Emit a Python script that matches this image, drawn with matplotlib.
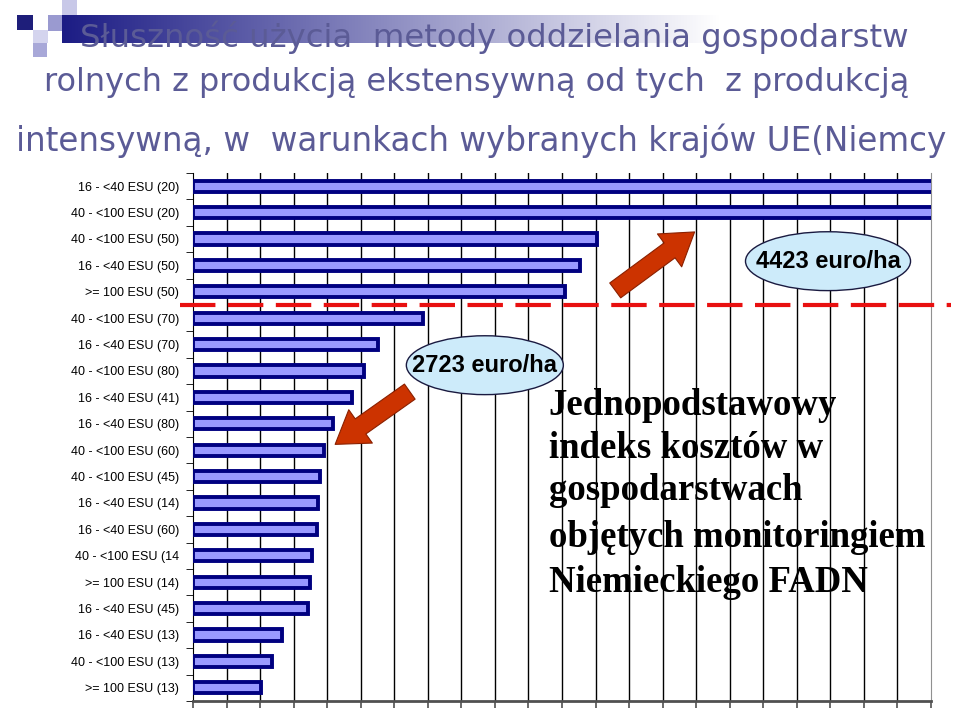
import numpy as np
import matplotlib.pyplot as plt
from matplotlib.patches import Rectangle, Ellipse, FancyArrowPatch

# categories, top to bottom
categories = ["16 - <40 ESU (20)", "40 - <100 ESU (20)", "40 - <100 ESU (50)",
              "16 - <40 ESU (50)", ">= 100 ESU (50)", "40 - <100 ESU (70)",
              "16 - <40 ESU (70)", "40 - <100 ESU (80)", "16 - <40 ESU (41)",
              "16 - <40 ESU (80)", "40 - <100 ESU (60)", "40 - <100 ESU (45)",
              "16 - <40 ESU (14)", "16 - <40 ESU (60)", "40 - <100 ESU (14",
              ">= 100 ESU (14)", "16 - <40 ESU (45)", "16 - <40 ESU (13)",
              "40 - <100 ESU (13)", ">= 100 ESU (13)"]
# index of costs (scale of the gridlines: one step = 200)
values = [4600, 4600, 2408, 2306, 2218, 1372, 1102, 1020, 948, 834,
          780, 758, 746, 740, 710, 696, 686, 530, 472, 404]
x_max = 4400
x_step = 200

title_lines = ["Słuszność użycia  metody oddzielania gospodarstw",
               "rolnych z produkcją ekstensywną od tych  z produkcją",
               "intensywną, w  warunkach wybranych krajów UE(Niemcy"]
note_lines = ["Jednopodstawowy", "indeks kosztów w", "gospodarstwach",
              "objętych monitoringiem", "Niemieckiego FADN"]
label_high = "4423 euro/ha"
label_low = "2723 euro/ha"

W, H = 960, 709
fig = plt.figure(figsize=(W / 100, H / 100), dpi=100)

# decoration layer in pixel coordinates
bg = fig.add_axes([0, 0, 1, 1], zorder=0)
bg.set_xlim(0, W)
bg.set_ylim(H, 0)
bg.axis("off")
grad = np.linspace(0, 1, 256).reshape(1, -1)
navy = np.array([0.11, 0.11, 0.52])
img = navy[None, None, :] * (1 - grad[..., None]) + np.ones(3)[None, None, :] * grad[..., None]
bg.imshow(img, extent=[62, 720, 43, 15], aspect="auto", interpolation="bilinear")
for (x0, y0, w, h, c) in [(17, 15, 16, 15, "#1e1e7a"), (48, 15, 14, 16, "#9a9ad0"),
                          (62, 0, 15, 15, "#c8c8e8"), (33, 30, 15, 13, "#d4d4ee"),
                          (33, 43, 14, 14, "#a8a8d8")]:
    bg.add_patch(Rectangle((x0, y0), w, h, color=c, lw=0))

title_color = "#5b5b96"
for (txt, x, y, fs) in zip(title_lines, [80, 44, 16], [47, 91, 151], [23.3, 23.0, 23.5]):
    fig.text(x / W, 1 - y / H, txt, fontsize=fs, color=title_color,
             family="DejaVu Sans", va="baseline", ha="left")

# main chart
ax = fig.add_axes([193 / W, 1 - 701 / H, (931 - 193) / W, (701 - 173) / H], zorder=1)
ax.set_facecolor("none")
ypos = np.arange(len(categories))
ax.barh(ypos, values, height=0.43, color="#9999ff", edgecolor="#000080",
        linewidth=2.8, zorder=3)
ax.set_xlim(0, x_max)
ax.set_ylim(len(categories) - 0.5, -0.5)

for xv in np.arange(x_step, x_max, x_step):
    ax.axvline(xv, color="black", lw=1, zorder=1.5)

ax.set_yticks(ypos)
ax.set_yticklabels(categories, fontsize=9, family="Liberation Sans")
ax.set_yticks(np.arange(-0.5, len(categories), 1), minor=True)
ax.tick_params(axis="y", which="major", length=0, pad=10)
ax.tick_params(axis="y", which="minor", length=5, direction="out", color="black")
ax.set_xticks(np.arange(0, x_max + 1, x_step))
ax.set_xticklabels([])
ax.tick_params(axis="x", length=5, direction="out", color="#505050", width=1.2)
ax.spines["top"].set_visible(False)
ax.spines["right"].set_color("#909090")
ax.spines["bottom"].set_color("#505050")
ax.spines["bottom"].set_linewidth(2)
ax.spines["left"].set_color("black")

# threshold line
ax.plot([-78, 4520], [4.5, 4.5], color="#e81010", lw=3, ls=(0, (8.5, 3)),
        clip_on=False, zorder=5)

# arrows
for (tail, tip) in [((2504, 4.01), (3004, 1.67)), ((1306, 7.72), (834, 9.84))]:
    arr = FancyArrowPatch(tail, tip, arrowstyle="simple,head_width=2.1,head_length=1.6,tail_width=0.95",
                          mutation_scale=14, facecolor="#cc3300", edgecolor="#8a2000",
                          lw=0.8, zorder=6)
    ax.add_patch(arr)

# ellipses with labels
for (cx, cy, w, txt) in [(3786, 2.84, 984, label_high), (1740, 6.78, 936, label_low)]:
    ax.add_patch(Ellipse((cx, cy), w, 2.23, facecolor="#cdebfa", edgecolor="#1a1a40",
                         lw=1, zorder=6))
    ax.text(cx, cy, txt, ha="center", va="center", fontsize=17, fontweight="bold",
            family=["Liberation Sans Narrow", "Liberation Sans"], zorder=7)

# explanatory text behind the gridlines
for txt, yb in zip(note_lines, [8.67, 10.30, 11.88, 13.66, 15.37]):
    ax.text(2120, yb, txt, ha="left", va="baseline", fontsize=26.5,
            fontweight="bold", family="Liberation Serif", zorder=1)

fig.savefig("out.png", dpi=100)
